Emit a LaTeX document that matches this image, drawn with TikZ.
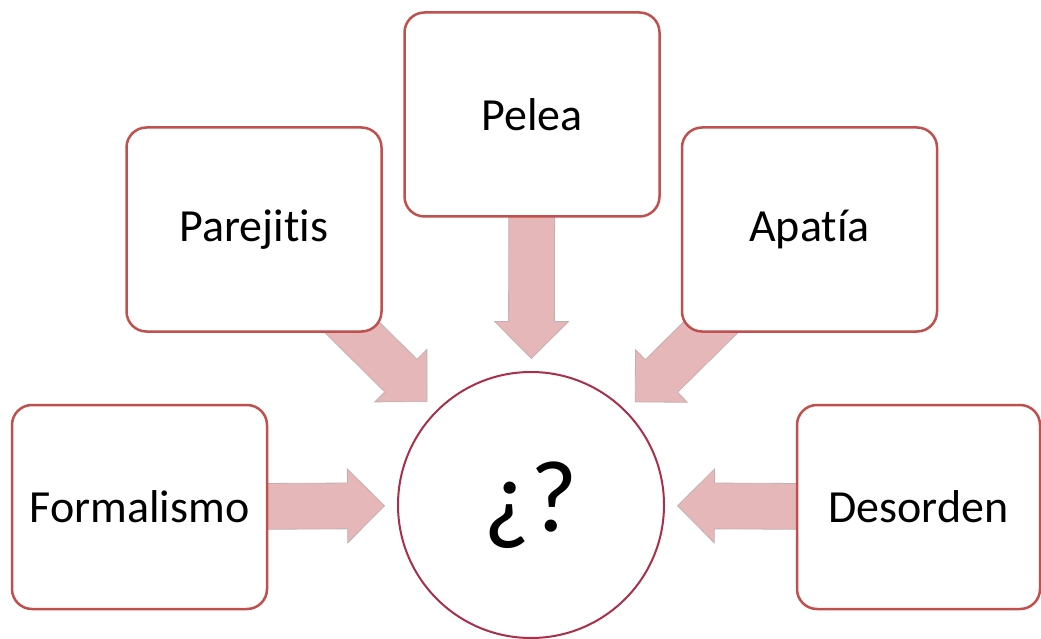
\documentclass[tikz,border=0pt]{standalone}
\usepackage{fontspec}
\setmainfont{Carlito}[Ligatures=NoCommon]
\usetikzlibrary{shapes.arrows,calc,backgrounds}

\definecolor{borde}{RGB}{192,80,77}
\definecolor{circulo}{RGB}{168,48,74}
\definecolor{rosa}{RGB}{230,183,185}
\definecolor{rosaborde}{RGB}{196,176,176}

\tikzset{
  caja/.style={draw=borde,line width=2.5pt,fill=white,rounded corners=20pt,
    minimum width=255pt,minimum height=204pt,inner sep=0pt,
    font=\fontsize{46}{55}\selectfont},
  centro/.style={draw=circulo,line width=2pt,fill=white,circle,
    minimum size=266pt,inner sep=0pt,font=\fontsize{102}{110}\selectfont},
  flecha/.style={single arrow,draw=rosaborde,line width=0.8pt,fill=rosa,
    inner xsep=0pt,inner ysep=22.5pt,single arrow head extend=14pt,
    minimum height=150pt,sloped,allow upside down,pos=1,anchor=tip}
}

\begin{document}
\begin{tikzpicture}[x=1pt,y=-1pt]
                \useasboundingbox (0,0) rectangle (1041,639);
                \node[centro] (Q) at (531,505) {¿?};
                
                \node[caja] (F) at (139.5,507) {Formalismo};
                \node[caja] (Par) at (254,229.5) {Parejitis};
                \node[caja] (Pel) at (532,114.5) {Pelea};
                \node[caja] (Ap) at (809.5,229.5) {Apatía};
                \node[caja,minimum width=243pt] (D) at (918.5,507) {Desorden};
                
                % flechas detras de las cajas
                \begin{pgfonlayer}{background}
                \foreach \b in {F,Par,Pel,Ap,D}
                    \path (\b) -- ($(Q)!146pt!(\b)$) node[flecha] {};
                \end{pgfonlayer}
            \end{tikzpicture}
\end{document}
